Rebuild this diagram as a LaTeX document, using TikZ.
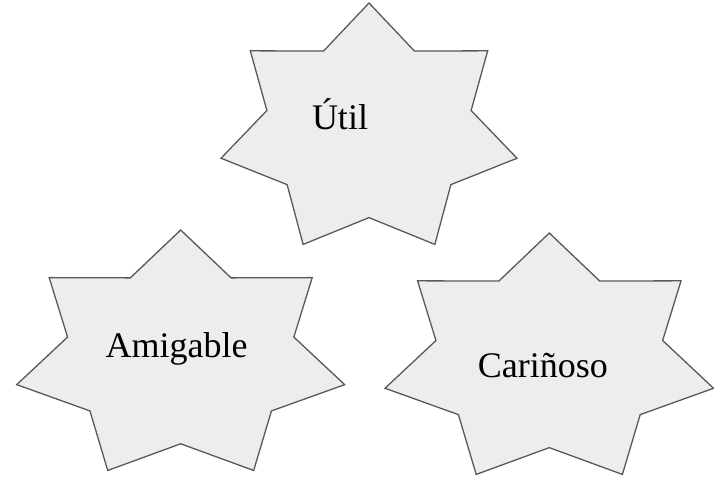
\documentclass[tikz,border=0pt]{standalone}
\usepackage{fontspec}
\setmainfont{Liberation Serif}
\tikzset{
	heptagram/.style={draw=black!65,fill=black!7,line width=1.3pt,line join=miter},
	starlabel/.style={anchor=base,font=\fontsize{36}{42}\selectfont}
}

\begin{document}
\begin{tikzpicture}[x=1pt,y=-1pt]
			\useasboundingbox (0,0) rectangle (714,481);
			% the three stars: centre, x radius, y radius
			\foreach \cx/\cy/\rx/\ry in {369/130/151.8/127, 180.7/356.5/168.2/126.5, 549.3/360/168.5/127}{
				\begin{scope}[shift={(\cx,\cy)},x=\rx pt,y=\ry pt]
				\draw [heptagram] plot [samples at={0,...,13}] ({90+\x*360/14}:{1-0.31*mod(\x,2)}) -- cycle;
				\end{scope}
			}
			\node [starlabel] (util) at (340,130) {Útil};
			\node [starlabel] (amigable) at (176.7,357.3) {Amigable};
			\node [starlabel] (carinoso) at (542.8,377.3) {Cariñoso};
			\end{tikzpicture}
\end{document}
